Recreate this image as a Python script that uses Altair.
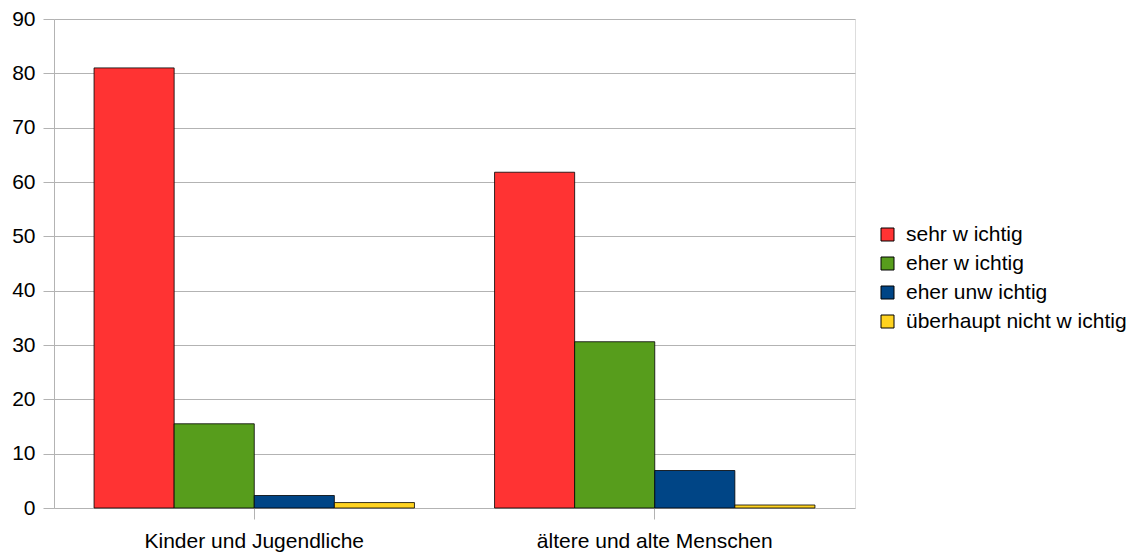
import altair as alt
import pandas as pd

groups = ["Kinder und Jugendliche", "ältere und alte Menschen"]
series = ["sehr w ichtig", "eher w ichtig", "eher unw ichtig", "überhaupt nicht w ichtig"]
values_kinder = [81.0, 15.5, 2.3, 1.0]
values_aeltere = [61.8, 30.6, 6.9, 0.55]
colors = ["#ff3333", "#579d1c", "#004586", "#ffd320"]
y_ticks = [0, 10, 20, 30, 40, 50, 60, 70, 80, 90]

rows = []
for g, vals in zip(groups, [values_kinder, values_aeltere]):
    for s, v in zip(series, vals):
        rows.append({"Gruppe": g, "Bewertung": s, "Wert": v})
df = pd.DataFrame(rows)

FONT = "Liberation Sans"

chart = alt.Chart(df).mark_bar(stroke="#000000", strokeWidth=0.8).encode(
    x=alt.X("Gruppe:N", sort=groups,
            scale=alt.Scale(paddingInner=0.2, paddingOuter=0.1),
            axis=alt.Axis(title=None, labelAngle=0, labelFontSize=21, labelFont=FONT,
                          labelColor="#000000", tickSize=11, tickColor="#b3b3b3",
                          domain=False, labelPadding=11, grid=False, labelLimit=0)),
    xOffset=alt.XOffset("Bewertung:N", sort=series, scale=alt.Scale(paddingInner=0, paddingOuter=0)),
    y=alt.Y("Wert:Q", scale=alt.Scale(domain=[0, 90], nice=False),
            axis=alt.Axis(title=None, values=y_ticks, labelFontSize=21, labelFont=FONT,
                          labelColor="#000000", tickSize=11, tickColor="#b3b3b3",
                          gridColor="#b3b3b3", domainColor="#b3b3b3", labelPadding=8)),
    color=alt.Color("Bewertung:N", sort=series,
                    scale=alt.Scale(domain=series, range=colors),
                    legend=alt.Legend(title=None, orient="none", legendX=823, legendY=205,
                                      symbolType="square", symbolSize=169,
                                      symbolStrokeColor="#000000", symbolStrokeWidth=1,
                                      symbolOpacity=1,
                                      labelFontSize=21, labelFont=FONT, labelColor="#000000",
                                      labelLimit=0,
                                      rowPadding=7, labelOffset=8, padding=0)),
).properties(
    width=801,
    height=489,
    autosize=alt.AutoSizeParams(type="none"),
    padding={"left": 46, "top": 11, "right": 272, "bottom": 44},
).configure_view(
    stroke="#b3b3b3", strokeWidth=1
).configure(background="white")

chart.save("out.html", embed_options={"renderer": "svg", "actions": False})
